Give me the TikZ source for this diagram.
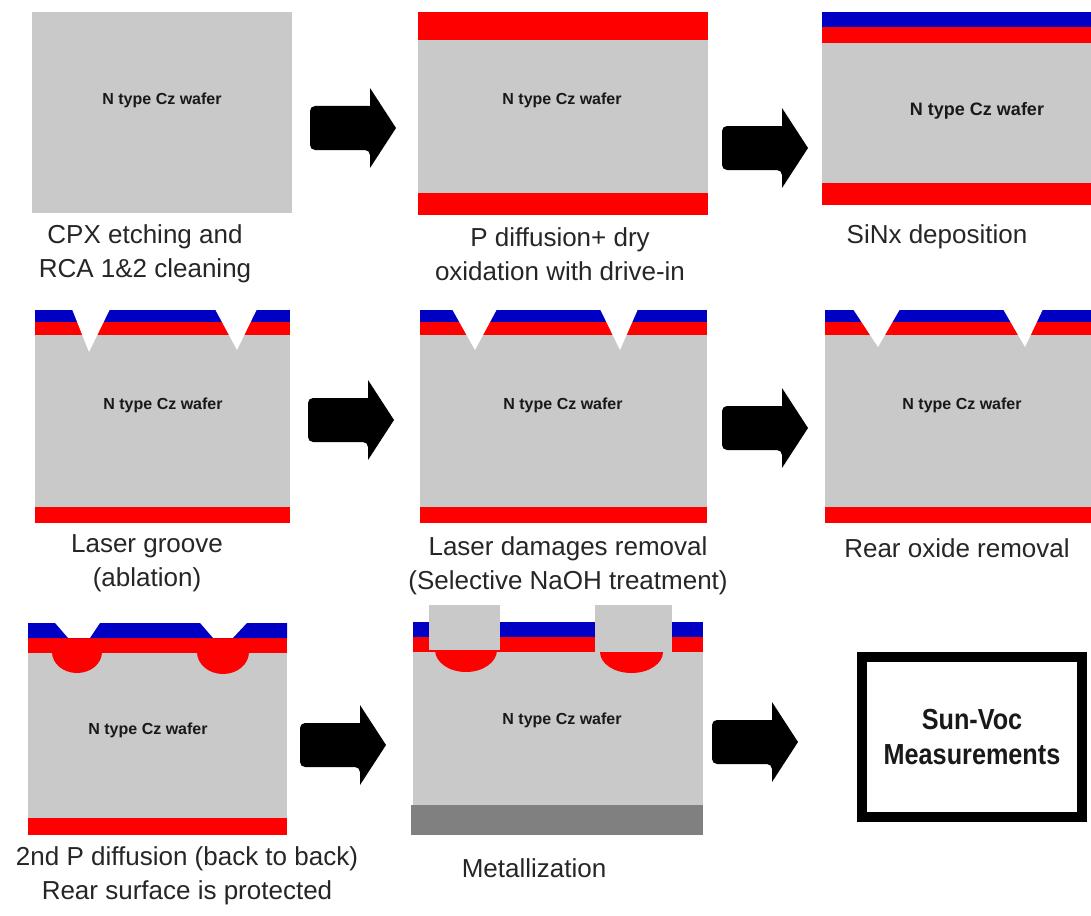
\documentclass[tikz,border=0pt]{standalone}
\usepackage{fontspec}
\setmainfont{Liberation Sans}
\newfontfamily\narrowsans[FakeStretch=0.87]{Liberation Sans}
\usepackage{xcolor}

\definecolor{waferGray}{RGB}{201,201,201}
\definecolor{sinBlue}{RGB}{0,0,196}
\definecolor{emRed}{RGB}{255,0,0}
\definecolor{metalGray}{RGB}{128,128,128}

\tikzset{
 wafer/.style={fill=waferGray},
 emitter/.style={fill=emRed},
 nitride/.style={fill=sinBlue},
 metal/.style={fill=metalGray},
 groove/.style={fill=white},
 waferlabel/.style={font=\bfseries\fontsize{16}{18}\selectfont, text=black!90},
 caption/.style={font=\fontsize{26}{34}\selectfont, align=center, text=black!85},
 procarrow/.pic={
  \fill[black, rounded corners=5pt] (17,-22) -- (-43,-22) -- (-43,22) -- (17,22)
   [sharp corners] -- (17,40) -- (43,0) -- (17,-40) -- cycle;
 }
}

\begin{document}
\begin{tikzpicture}[x=1pt, y=-1pt]
 \useasboundingbox[fill=white] (0,0) rectangle (1091,915);

 % CPX etching and cleaning
 \fill[wafer] (32,12) rectangle (292,213);
 \node[waferlabel] (w1) at (162,100) {N type Cz wafer};
 \node[caption] (c1) at (145,254) {CPX etching and\\RCA 1\&2 cleaning};

 % P diffusion
 \fill[emitter] (418,12) rectangle (708,40);
 \fill[wafer] (418,40) rectangle (708,193);
 \fill[emitter] (418,193) rectangle (708,215);
 \node[waferlabel] (w2) at (562,100) {N type Cz wafer};
 \node[caption] (c2) at (560,254) {P diffusion+ dry\\oxidation with drive-in};

 % SiNx
 \fill[nitride] (822,12) rectangle (1091,27);
 \fill[emitter] (822,27) rectangle (1091,43);
 \fill[wafer] (822,43) rectangle (1091,183);
 \fill[emitter] (822,183) rectangle (1091,205);
 \node[waferlabel, font=\bfseries\fontsize{18}{20}\selectfont] (w3) at (977,111) {N type Cz wafer};
 \node[caption] (c3) at (937,237) {SiNx deposition};

 % laser groove
 \fill[nitride] (35,310) rectangle (290,322);
 \fill[emitter] (35,322) rectangle (290,335);
 \fill[wafer] (35,335) rectangle (290,507);
 \fill[emitter] (35,507) rectangle (290,523);
 \fill[groove] (72,309) -- (89,352) -- (110,309) -- cycle;
 \fill[groove] (215,309) -- (237,350) -- (257,309) -- cycle;
 \node[waferlabel] (w4) at (163,405) {N type Cz wafer};
 \node[caption] (c4) at (147,563) {Laser groove\\(ablation)};

 % damage removal
 \fill[nitride] (420,310) rectangle (707,322);
 \fill[emitter] (420,322) rectangle (707,335);
 \fill[wafer] (420,335) rectangle (707,507);
 \fill[emitter] (420,507) rectangle (707,523);
 \fill[groove] (452,309) -- (475,350) -- (497,309) -- cycle;
 \fill[groove] (600,309) -- (620,350) -- (638,309) -- cycle;
 \node[waferlabel] (w5) at (563,405) {N type Cz wafer};
 \node[caption] (c5) at (568,566) {Laser damages removal\\(Selective NaOH treatment)};

 % rear oxide removal
 \fill[nitride] (825,310) rectangle (1091,322);
 \fill[emitter] (825,322) rectangle (1091,335);
 \fill[wafer] (825,335) rectangle (1091,507);
 \fill[emitter] (825,507) rectangle (1091,523);
 \fill[groove] (853,309) -- (878,347) -- (900,309) -- cycle;
 \fill[groove] (1003,309) -- (1025,347) -- (1043,309) -- cycle;
 \node[waferlabel] (w6) at (962,405) {N type Cz wafer};
 \node[caption] (c6) at (957,548) {Rear oxide removal};

 % second diffusion
 \fill[wafer] (28,653) rectangle (287,818);
 \fill[emitter] (28,818) rectangle (287,835);
 \fill[emitter] (28,638) rectangle (287,653);
 \fill[nitride] (28,623) -- (55,623) -- (68,638) -- (90,638) -- (100,623) -- (200,623)
  -- (213,638) -- (233,638) -- (247,623) -- (287,623) -- (287,638) -- (28,638) -- cycle;
 \fill[emitter] (52,652) arc[start angle=180, end angle=360, x radius=25pt, y radius=21pt] -- cycle;
 \fill[emitter] (197,652) arc[start angle=180, end angle=360, x radius=26pt, y radius=22pt] -- cycle;
 \node[waferlabel] (w7) at (148,730) {N type Cz wafer};
 \node[caption] (c7) at (187,876) {2nd P diffusion (back to back)\\Rear surface is protected};

 % metallization
 \fill[nitride] (413,622) rectangle (703,637);
 \fill[emitter] (413,637) rectangle (703,652);
 \fill[wafer] (413,652) rectangle (703,805);
 \fill[metal] (411,805) rectangle (703,835);
 \fill[emitter] (435,650) arc[start angle=180, end angle=360, x radius=31pt, y radius=22pt] -- cycle;
 \fill[emitter] (600,652) arc[start angle=180, end angle=360, x radius=31.5pt, y radius=21pt] -- cycle;
 \fill[wafer] (429,605) rectangle (500,650);
 \fill[wafer] (595,605) rectangle (672,652);
 \node[waferlabel] (w8) at (562,720) {N type Cz wafer};
 \node[caption] (c8) at (534,868) {Metallization};

 % result
 \node[draw, line width=10pt, minimum width=220pt, minimum height=160pt, align=center,
  font=\narrowsans\bfseries\fontsize{29}{35}\selectfont, text=black!90] (svm) at (972,737) {Sun-Voc\\Measurements};

 % process arrows
 \pic (a1) at (353,128) {procarrow};
 \pic (a2) at (765,148) {procarrow};
 \pic (a3) at (351,420) {procarrow};
 \pic (a4) at (765,428) {procarrow};
 \pic (a5) at (343,745) {procarrow};
 \pic (a6) at (755,742) {procarrow};
\end{tikzpicture}
\end{document}
